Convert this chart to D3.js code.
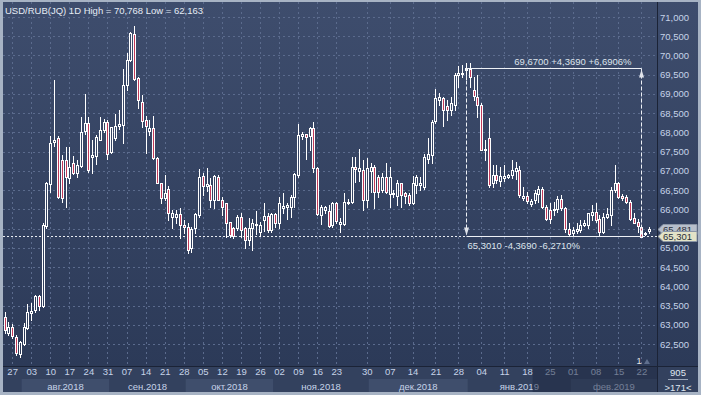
<!DOCTYPE html>
<html>
<head>
<meta charset="utf-8">
<script src="https://cdn.jsdelivr.net/npm/d3@7"></script>
<style>
  body { margin: 0; background: #a7b3c4; }
  svg { display: block; font-family: "Liberation Sans", Arial, sans-serif; }
</style>
</head>
<body>
<script>
// USD/RUB daily candles (one entry per trading bar)
const opens = [63.20,62.79,62.93,62.67,62.26,62.52,62.93,63.31,63.38,63.75,
  63.49,65.57,66.66,67.75,67.85,67.28,67.28,66.83,67.21,66.94,
  67.13,68.02,68.24,67.37,67.37,67.80,68.06,68.28,67.47,67.87,
  68.17,68.19,69.23,69.88,70.56,69.41,68.80,68.32,68.02,68.11,
  67.33,66.68,66.29,66.52,65.79,65.79,65.87,65.59,65.55,64.99,
  65.51,65.85,66.87,66.59,66.63,66.24,66.85,66.24,66.16,65.66,
  65.51,65.51,65.79,65.51,65.20,65.51,65.59,65.42,65.72,65.83,
  65.46,65.88,65.65,66.05,66.05,66.07,66.31,66.89,67.91,67.95,
  67.89,68.11,67.07,65.87,65.98,65.97,65.59,66.16,65.64,65.64,
  66.17,66.20,67.09,66.98,67.01,66.24,66.98,67.11,66.85,66.50,
  66.85,66.40,66.40,66.35,66.68,66.42,66.37,66.17,66.63,66.63,
  66.59,67.30,67.41,68.28,68.86,68.89,68.69,68.58,68.71,69.49,
  69.52,69.62,69.64,69.09,68.93,68.71,67.53,67.85,66.68,66.89,
  66.75,66.83,66.85,66.87,66.98,67.01,66.31,66.35,66.14,66.24,
  66.40,66.52,66.05,65.98,65.98,66.00,66.26,66.03,65.48,65.38,
  65.45,65.46,65.59,65.59,65.85,65.94,65.74,65.42,65.81,65.85,
  66.50,66.69,66.35,66.33,66.20,65.77,65.68,65.55,65.36,65.42];
const highs = [63.34,63.08,63.02,62.73,62.59,63.05,63.54,63.56,63.77,63.77,
  65.65,66.72,67.91,69.36,67.91,67.40,67.63,67.63,67.39,67.28,
  68.41,69.00,68.41,67.80,67.93,68.39,68.34,68.32,68.15,68.48,
  68.58,69.64,70.06,70.62,70.768,69.43,68.97,68.43,68.32,68.43,
  67.35,66.69,66.89,66.60,65.98,65.98,66.03,65.72,65.64,65.55,
  65.91,67.04,66.94,67.07,66.81,66.89,66.89,66.31,66.17,65.68,
  65.55,65.85,65.91,65.55,65.77,65.74,65.97,65.68,66.17,65.90,
  65.91,65.91,66.31,66.43,66.16,66.37,66.94,68.22,68.02,67.95,
  68.15,68.28,67.09,66.11,66.09,66.11,66.20,66.20,65.77,66.42,
  66.26,67.35,67.37,67.56,67.28,67.33,67.20,67.15,66.89,66.95,
  67.20,67.11,66.50,66.76,66.69,66.46,66.42,66.87,66.89,66.85,
  67.44,67.85,68.32,69.12,69.03,68.93,68.84,68.93,69.54,69.73,
  69.75,69.80,69.80,69.45,69.49,68.76,67.80,68.37,67.15,67.15,
  67.11,67.15,66.92,67.27,67.24,67.13,66.59,66.46,66.26,66.50,
  66.61,66.59,66.11,66.16,66.20,66.35,66.37,66.07,65.64,65.55,
  65.64,65.72,65.72,65.91,66.11,66.16,65.85,65.90,66.03,66.57,
  67.15,66.72,66.40,66.37,66.24,65.90,65.74,65.59,65.42,65.55];
const lows = [62.78,62.73,62.65,62.21,62.163,62.47,62.88,63.12,63.34,63.38,
  63.47,65.51,66.46,67.65,66.29,66.20,66.07,66.69,66.92,66.85,
  67.11,67.95,66.98,66.95,67.18,67.79,68.00,67.30,67.46,67.80,
  68.10,67.73,69.10,69.85,69.36,68.63,68.15,67.46,67.93,67.30,
  66.68,66.17,66.25,65.72,65.51,65.65,65.25,65.38,64.86,64.90,
  65.38,65.79,66.37,66.48,66.07,66.03,66.24,65.85,65.29,65.29,
  65.25,65.46,65.29,64.99,65.07,64.94,65.36,65.31,65.45,65.42,
  65.42,65.55,65.51,65.91,65.74,65.80,66.05,66.85,67.82,67.30,
  67.53,66.98,65.85,65.62,65.91,65.55,65.55,65.64,65.42,65.59,
  66.14,66.16,66.72,66.75,65.98,66.07,66.46,66.03,66.33,66.46,
  66.42,66.07,66.33,66.11,66.07,66.16,66.11,66.14,66.43,66.50,
  66.52,67.21,67.20,68.25,68.71,68.17,68.32,68.45,68.58,69.19,
  69.45,69.40,69.19,68.84,68.41,67.53,67.28,66.59,66.59,66.68,
  66.61,66.75,66.81,66.81,66.78,66.33,66.24,66.16,66.09,66.16,
  66.20,66.03,65.72,65.64,65.85,65.94,65.98,65.42,65.32,65.33,
  65.39,65.42,65.57,65.51,65.72,65.68,65.33,65.39,65.77,65.59,
  66.46,66.29,66.24,66.16,65.72,65.64,65.42,65.29,65.33,65.38];
const closes = [62.85,62.95,62.69,62.26,62.56,62.95,63.34,63.36,63.75,63.49,
  65.59,66.68,67.72,67.80,66.31,66.29,66.85,67.11,66.94,67.15,
  68.02,68.24,67.01,67.41,67.87,68.06,68.28,67.46,68.13,68.17,
  68.21,69.23,69.88,70.58,69.38,68.84,68.30,68.17,68.11,67.33,
  66.69,66.29,66.42,65.90,65.90,65.87,65.59,65.53,64.96,65.48,
  65.88,66.85,66.61,66.65,66.24,66.87,66.26,66.05,65.65,65.33,
  65.31,65.79,65.46,65.19,65.51,65.64,65.62,65.59,65.83,65.46,
  65.87,65.65,66.16,66.09,66.11,66.33,66.91,67.93,67.95,67.87,
  68.11,67.07,65.87,66.07,66.05,65.59,66.16,65.68,65.68,66.20,
  66.20,67.11,67.04,67.07,66.24,67.07,67.09,66.46,66.46,66.85,
  66.46,66.85,66.43,66.68,66.37,66.35,66.16,66.69,66.85,66.68,
  67.37,67.44,68.28,68.89,68.93,68.58,68.58,68.76,69.49,69.55,
  69.55,69.67,69.43,68.93,68.71,67.54,67.56,66.63,66.89,66.76,
  66.87,66.87,66.90,67.01,67.07,66.35,66.35,66.23,66.23,66.42,
  66.52,66.05,65.74,65.74,66.01,66.26,66.03,65.48,65.36,65.46,
  65.50,65.59,65.64,65.90,65.94,65.72,65.39,65.81,65.88,66.50,
  66.69,66.33,66.31,66.20,65.77,65.65,65.57,65.301,65.39,65.48];

const priceTicks = [71,70.5,70,69.5,69,68.5,68,67.5,67,66.5,66,65.5,65,64.5,64,63.5,63,62.5];
const weekLabels = ["27","03","10","17","24","31","07","14","21","28","05","12","19","26","02","09",
  "16","23","30","07","14","21","28","04","11","18","25","01","08","15","22"];
const weekIdx = [2,7,12,17,22,27,32,37,42,47,52,57,62,67,72,77,82,87,95,101,107,113,119,125,131,137,143,149,155,161,167];
const monthLabels = ["авг.2018","сен.2018","окт.2018","ноя.2018","дек.2018","янв.2019","фев.2019"];
const monthStart = [4.5,27.5,47.5,70.5,95.5,121.5,148.5];

const lastPrice = 65.301;
const prevPrice = 65.481;
const measureFrom = 121, measureTo = 167;
const measureHigh = 69.67, measureLow = 65.301;
const highlightFrom = 138.5;

(function() {
  const width = 701, height = 395;
  const plot = {left: 3, right: 657, top: 2, bottom: 366};
  const frameRight = 698, frameBottom = 392;
  const n = opens.length;

  const comma = (s) => s.replace(".", ",");
  const fmtPrice = (d) => comma(d3.format(".3f")(d));
  const fmt4 = (d) => comma(d3.format(".4f")(d));

  let svg = d3.select("body").append("svg")
    .attr("width", width)
    .attr("height", height);

  let defs = svg.append("defs");
  let grad = defs.append("linearGradient")
    .attr("id", "bg")
    .attr("gradientUnits", "userSpaceOnUse")
    .attr("x1", 0).attr("y1", 0).attr("x2", 0).attr("y2", plot.bottom);
  grad.append("stop").attr("offset", 0).attr("stop-color", "#3e4d6d");
  grad.append("stop").attr("offset", 1).attr("stop-color", "#2c3a58");
  defs.append("clipPath").attr("id", "clip")
    .append("rect")
    .attr("x", plot.left).attr("y", plot.top)
    .attr("width", plot.right - plot.left).attr("height", plot.bottom - plot.top);

  // outer frame
  svg.append("rect").attr("width", width).attr("height", height).attr("fill", "#a7b3c4");
  svg.append("rect")
    .attr("x", plot.left).attr("y", plot.top)
    .attr("width", frameRight - plot.left).attr("height", plot.bottom - plot.top)
    .attr("fill", "url(#bg)");
  svg.append("rect")
    .attr("x", plot.left).attr("y", plot.bottom)
    .attr("width", frameRight - plot.left).attr("height", frameBottom - plot.bottom)
    .attr("fill", "#33415e");

  let x = d3.scaleLinear().domain([0, n - 1]).range([4.5, 649]);
  let y = d3.scaleLinear().domain([62.5, 71]).range([344, 17]);
  const px = (i) => Math.round(x(i));

  // grid
  let grid = svg.append("g")
    .attr("stroke", "#5b6b8d")
    .attr("stroke-dasharray", "2,3");
  grid.selectAll(".hgrid")
    .data(priceTicks)
    .enter()
    .append("line")
    .attr("x1", plot.left).attr("x2", plot.right)
    .attr("y1", (d) => Math.round(y(d)) + 0.5)
    .attr("y2", (d) => Math.round(y(d)) + 0.5);
  grid.selectAll(".vgrid")
    .data(weekIdx)
    .enter()
    .append("line")
    .attr("y1", plot.top).attr("y2", plot.bottom)
    .attr("x1", (d) => px(d) + 0.5)
    .attr("x2", (d) => px(d) + 0.5);

  // last price line
  svg.append("line")
    .attr("x1", plot.left).attr("x2", plot.right)
    .attr("y1", Math.round(y(lastPrice)) + 0.5)
    .attr("y2", Math.round(y(lastPrice)) + 0.5)
    .attr("stroke", "#e8ecf2")
    .attr("stroke-dasharray", "2,2");

  // candles
  let candles = svg.append("g").attr("clip-path", "url(#clip)");
  let idx = d3.range(n);
  candles.selectAll(".wick")
    .data(idx)
    .enter()
    .append("line")
    .attr("x1", (i) => px(i) + 0.5)
    .attr("x2", (i) => px(i) + 0.5)
    .attr("y1", (i) => Math.round(y(highs[i])))
    .attr("y2", (i) => Math.round(y(lows[i])) + 1)
    .attr("stroke", "#ffffff");
  candles.selectAll(".body")
    .data(idx)
    .enter()
    .append("rect")
    .attr("x", (i) => px(i) - 0.5)
    .attr("y", (i) => Math.round(y(Math.max(opens[i], closes[i]))) + 0.5)
    .attr("width", 2)
    .attr("height", (i) => Math.max(1, Math.round(Math.abs(y(opens[i]) - y(closes[i])))))
    .attr("fill", (i) => closes[i] >= opens[i] ? "url(#bg)" : "#c23a5a")
    .attr("stroke", "#ffffff");

  // measurement tool
  let m = svg.append("g").attr("stroke", "#eef1f6");
  let mx1 = px(measureFrom) + 0.5, mx2 = px(measureTo) + 0.5;
  let myHi = Math.round(y(measureHigh)) + 0.5, myLo = Math.round(y(measureLow)) + 0.5;
  m.append("line").attr("x1", mx1).attr("x2", mx2).attr("y1", myHi).attr("y2", myHi);
  m.append("line").attr("x1", mx1).attr("x2", mx2).attr("y1", myLo).attr("y2", myLo);
  m.append("line").attr("x1", mx2).attr("x2", mx2).attr("y1", myHi).attr("y2", myLo)
    .attr("stroke-dasharray", "4,2");
  m.append("line").attr("x1", mx1).attr("x2", mx1).attr("y1", myHi).attr("y2", myLo)
    .attr("stroke-dasharray", "4,2");
  svg.append("path")
    .attr("d", `M${mx2},${myHi + 1} L${mx2 - 2.5},${myHi + 9} L${mx2 + 2.5},${myHi + 9} Z`)
    .attr("fill", "#dfe3ea");
  svg.append("path")
    .attr("d", `M${mx1},${myLo - 1} L${mx1 - 2.5},${myLo - 9} L${mx1 + 2.5},${myLo - 9} Z`)
    .attr("fill", "#dfe3ea");

  let diff = measureHigh - measureLow;
  svg.append("text")
    .attr("x", mx2 - 10).attr("y", myHi - 4)
    .attr("text-anchor", "end")
    .attr("font-size", "9.5px")
    .attr("fill", "#dde3ec")
    .text(fmt4(measureHigh) + " +" + fmt4(diff) + " +" + fmt4(diff / measureLow * 100) + "%");
  svg.append("text")
    .attr("x", mx1 + 1).attr("y", myLo + 12)
    .attr("font-size", "9.5px")
    .attr("fill", "#dde3ec")
    .text(fmt4(measureLow) + " -" + fmt4(diff) + " -" + fmt4(diff / measureHigh * 100) + "%");

  // title
  svg.append("text")
    .attr("x", 5).attr("y", 13.5)
    .attr("font-size", "9.5px")
    .attr("fill", "#e6ecf5")
    .text("USD/RUB(JQ) 1D  High = " + fmtPrice(d3.max(highs)) + " Low = " + fmtPrice(d3.min(lows)));

  // right price axis
  let yAxis = d3.axisRight(y)
    .tickValues(priceTicks)
    .tickSize(0)
    .tickPadding(0)
    .tickFormat(fmtPrice);
  svg.append("g")
    .attr("transform", "translate(660,0)")
    .call(yAxis)
    .call((g) => g.select(".domain").remove())
    .call((g) => g.selectAll("text")
      .attr("fill", "#c6d3e8")
      .attr("font-size", "9.5px")
      .attr("font-family", "Liberation Sans, Arial, sans-serif"));

  // price tags
  [[prevPrice, "#b7bfcb"], [lastPrice, "#e3e3c7"]].forEach(([p, c]) => {
    let cy = Math.round(y(p)) + 0.5;
    svg.append("path")
      .attr("d", `M658,${cy} L663,${cy - 5} L697,${cy - 5} L697,${cy + 5} L663,${cy + 5} Z`)
      .attr("fill", c)
      .attr("stroke", "#8a95a6");
    svg.append("text")
      .attr("x", 663).attr("y", cy + 3.5)
      .attr("font-size", "9.5px")
      .attr("fill", "#2b2f38")
      .text(fmtPrice(p));
  });

  // bottom time axis: month bands
  let bandEdges = monthStart.map((d) => x(d)).concat([plot.right]);
  svg.selectAll(".band")
    .data(monthLabels)
    .enter()
    .append("rect")
    .attr("x", (d, i) => bandEdges[i])
    .attr("y", 379)
    .attr("width", (d, i) => bandEdges[i + 1] - bandEdges[i])
    .attr("height", frameBottom - 379)
    .attr("fill", (d, i) => i % 2 === 0 ? "#3f4e6c" : "#33415e");
  svg.selectAll(".month")
    .data(monthLabels)
    .enter()
    .append("text")
    .attr("x", (d, i) => (bandEdges[i] + bandEdges[i + 1]) / 2)
    .attr("y", 389.5)
    .attr("text-anchor", "middle")
    .attr("font-size", "9.5px")
    .attr("fill", "#c6d3e8")
    .text((d) => d);

  let xAxis = d3.axisBottom(x)
    .tickValues(weekIdx)
    .tickSize(0)
    .tickPadding(2)
    .tickFormat((d, i) => weekLabels[i]);
  svg.append("g")
    .attr("transform", `translate(0,${plot.bottom})`)
    .call(xAxis)
    .call((g) => g.select(".domain").remove())
    .call((g) => g.selectAll("text")
      .attr("fill", "#c6d3e8")
      .attr("font-size", "9.5px")
      .attr("font-family", "Liberation Sans, Arial, sans-serif"));

  // dimmed part of the time axis
  svg.append("rect")
    .attr("x", x(highlightFrom)).attr("y", plot.bottom)
    .attr("width", plot.right - x(highlightFrom))
    .attr("height", frameBottom - plot.bottom)
    .attr("fill", "#1d2840")
    .attr("opacity", 0.5);

  // separators
  svg.append("line")
    .attr("x1", plot.right + 0.5).attr("x2", plot.right + 0.5)
    .attr("y1", plot.top).attr("y2", frameBottom)
    .attr("stroke", "#1b2336");
  svg.append("line")
    .attr("x1", plot.left).attr("x2", frameRight)
    .attr("y1", plot.bottom + 0.5).attr("y2", plot.bottom + 0.5)
    .attr("stroke", "#1b2336");

  // bar counter box
  svg.append("text")
    .attr("x", 678).attr("y", 376)
    .attr("text-anchor", "middle")
    .attr("font-size", "9.5px")
    .attr("fill", "#dfe6f0")
    .text("905");
  svg.append("line")
    .attr("x1", 668).attr("x2", 688).attr("y1", 379.5).attr("y2", 379.5)
    .attr("stroke", "#9aa6b8");
  svg.append("text")
    .attr("x", 678).attr("y", 391)
    .attr("text-anchor", "middle")
    .attr("font-size", "9.5px")
    .attr("fill", "#dfe6f0")
    .text(">" + (n + 1) + "<");

  // bar marker
  svg.append("text")
    .attr("x", 639).attr("y", 364)
    .attr("text-anchor", "middle")
    .attr("font-size", "9px")
    .attr("fill", "#e6e6e6")
    .text("1");
  svg.append("path")
    .attr("d", "M644,364 L647,359 L650,364 Z")
    .attr("fill", "#5f6f8e");
})();
</script>
</body>
</html>
